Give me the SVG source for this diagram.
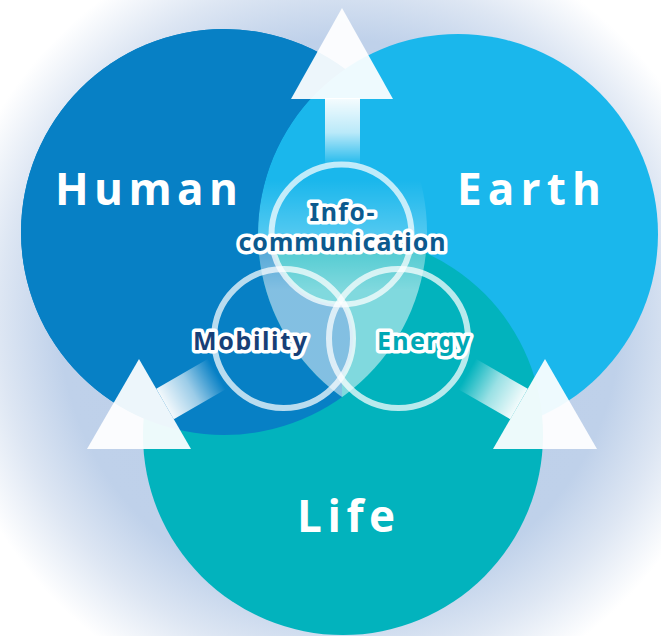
<svg xmlns="http://www.w3.org/2000/svg" width="661" height="636" viewBox="0 0 661 636">
  <defs>
    <style>
      .big { font-family: "Open Sans", "Liberation Sans", Arial, sans-serif; font-weight: 700; font-size: 44px; fill: #ffffff; }
      .lbl { font-family: "Noto Sans", "Liberation Sans", sans-serif; font-weight: bold; font-size: 25px; stroke: #ffffff; stroke-width: 7px; stroke-linejoin: round; paint-order: stroke; text-anchor: middle; }
      .ring { fill: none; stroke: #ffffff; stroke-opacity: 0.72; stroke-width: 6px; }
      .tri { fill: #ffffff; fill-opacity: 0.93; }
    </style>
    <radialGradient id="glow" gradientUnits="userSpaceOnUse" cx="340" cy="320" r="400">
      <stop offset="0" stop-color="#bccfe9"/>
      <stop offset="0.7" stop-color="#bfd1ea"/>
      <stop offset="0.85" stop-color="#dde6f3"/>
      <stop offset="1" stop-color="#ffffff"/>
    </radialGradient>
    <linearGradient id="lensFade" gradientUnits="userSpaceOnUse" x1="0" y1="180" x2="0" y2="290">
      <stop offset="0" stop-color="#ffffff" stop-opacity="0"/>
      <stop offset="1" stop-color="#ffffff" stop-opacity="0.5"/>
    </linearGradient>
    <linearGradient id="shaftUp" gradientUnits="userSpaceOnUse" x1="0" y1="99" x2="0" y2="166">
      <stop offset="0" stop-color="#ffffff" stop-opacity="0.95"/>
      <stop offset="0.5" stop-color="#ffffff" stop-opacity="0.7"/>
      <stop offset="1" stop-color="#ffffff" stop-opacity="0"/>
    </linearGradient>
    <linearGradient id="shaftLeft" gradientUnits="userSpaceOnUse" x1="165" y1="404" x2="217" y2="374">
      <stop offset="0" stop-color="#ffffff" stop-opacity="0.95"/>
      <stop offset="0.5" stop-color="#ffffff" stop-opacity="0.6"/>
      <stop offset="1" stop-color="#ffffff" stop-opacity="0"/>
    </linearGradient>
    <linearGradient id="shaftRight" gradientUnits="userSpaceOnUse" x1="519" y1="404" x2="467" y2="374">
      <stop offset="0" stop-color="#ffffff" stop-opacity="0.95"/>
      <stop offset="0.5" stop-color="#ffffff" stop-opacity="0.6"/>
      <stop offset="1" stop-color="#ffffff" stop-opacity="0"/>
    </linearGradient>
    <clipPath id="cHuman"><circle cx="224" cy="232" r="203"/></clipPath>
    <clipPath id="cEarth"><circle cx="458" cy="234" r="200"/></clipPath>
    <mask id="notEarth" maskUnits="userSpaceOnUse" x="0" y="0" width="661" height="636">
      <rect x="0" y="0" width="661" height="636" fill="#ffffff"/>
      <circle cx="458" cy="234" r="200" fill="#000000"/>
    </mask>
    <mask id="lifeNotInfo" maskUnits="userSpaceOnUse" x="0" y="0" width="661" height="636">
      <circle cx="343" cy="435" r="200" fill="#ffffff"/>
      <circle cx="341.5" cy="234.5" r="70" fill="#000000"/>
    </mask>
  </defs>

  <rect id="background" x="0" y="0" width="661" height="636" fill="url(#glow)"/>

  <g id="human"><circle cx="224" cy="232" r="203" fill="#0780c5"/></g>
  <g id="earth"><circle cx="458" cy="234" r="200" fill="#1ab7ec"/></g>
  <g id="life"><circle cx="343" cy="435" r="200" fill="#02b3bd"/></g>

  <g id="overlaps">
    <circle cx="224" cy="232" r="203" fill="#0780c5" mask="url(#notEarth)"/>
    <g clip-path="url(#cHuman)">
      <g clip-path="url(#cEarth)">
        <g mask="url(#lifeNotInfo)">
          <rect x="342" y="150" width="220" height="300" fill="#02b3bd"/>
          <rect x="100" y="150" width="242" height="300" fill="#0780c5"/>
          <circle cx="283.5" cy="338.5" r="69.5" fill="#0780c5"/>
        </g>
        <rect x="0" y="0" width="661" height="636" fill="url(#lensFade)"/>
      </g>
    </g>
  </g>

  <g id="connectors">
    <g id="arrow-up">
      <rect x="325" y="98" width="35" height="68" fill="url(#shaftUp)"/>
      <polygon class="tri" points="342,8 291,99 393,99"/>
    </g>
    <g id="arrow-left">
      <polygon points="156.25,388.8 173.75,419.2 225.7,389.2 208.2,358.8" fill="url(#shaftLeft)"/>
      <polygon class="tri" points="139,359 87,449 191,449"/>
    </g>
    <g id="arrow-right">
      <polygon points="527.75,388.8 510.25,419.2 458.3,389.2 475.8,358.8" fill="url(#shaftRight)"/>
      <polygon class="tri" points="545,359 493,449 597,449"/>
    </g>
  </g>

  <g id="info">
    <circle class="ring" cx="341.5" cy="234.5" r="70"/>
  </g>
  <g id="mobility">
    <circle class="ring" cx="283.5" cy="338.5" r="69.5"/>
  </g>
  <g id="energy">
    <circle class="ring" cx="398.5" cy="338.5" r="69.5"/>
  </g>

  <g id="labels">
    <text id="info-label" class="lbl" fill="#0c5a8e"><tspan x="342" y="221" textLength="65" lengthAdjust="spacing">Info-</tspan><tspan x="342" y="251" textLength="207" lengthAdjust="spacing">communication</tspan></text>
    <text id="mobility-label" class="lbl" x="250" y="350" fill="#173f77" textLength="114" lengthAdjust="spacing">Mobility</text>
    <text id="energy-label" class="lbl" x="423.5" y="350" fill="#00a8b5" textLength="93" lengthAdjust="spacing">Energy</text>
    <text id="human-label" class="big" x="55" y="205" textLength="183" lengthAdjust="spacing">Human</text>
    <text id="earth-label" class="big" x="457" y="205" textLength="144" lengthAdjust="spacing">Earth</text>
    <text id="life-label" class="big" x="297" y="532" textLength="98" lengthAdjust="spacing">Life</text>
  </g>
</svg>
